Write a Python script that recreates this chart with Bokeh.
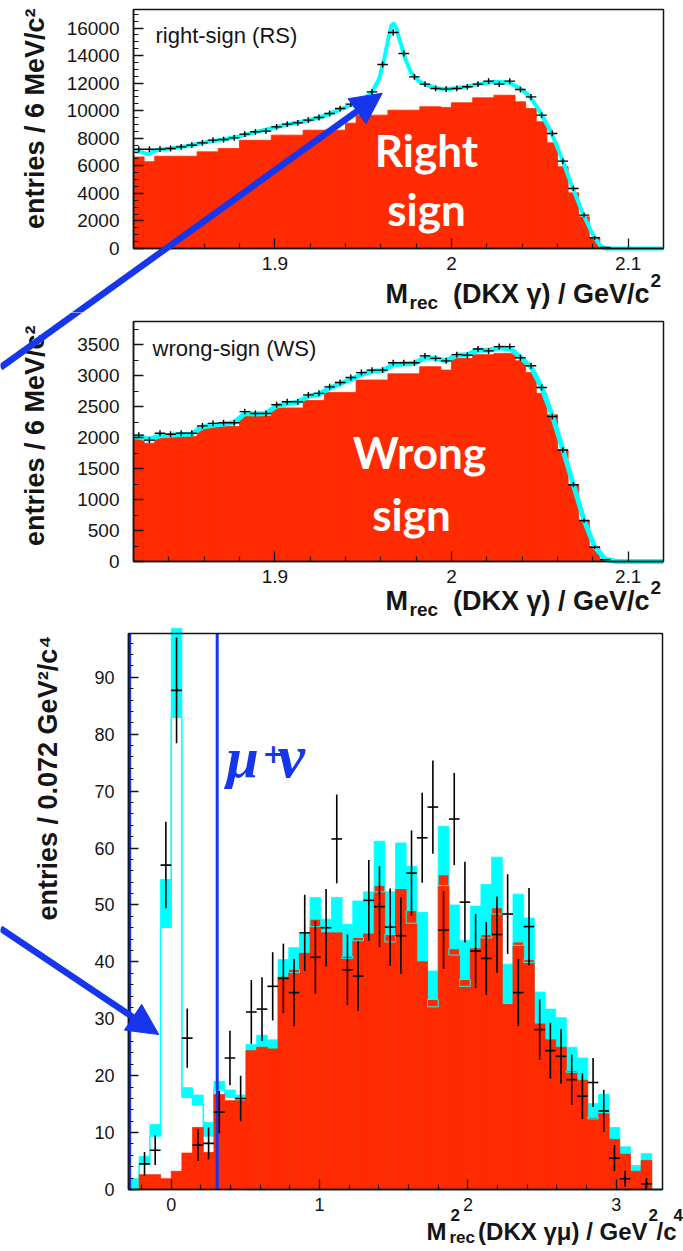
import math
from bokeh.plotting import figure
from bokeh.models import Range1d, Label, Arrow, NormalHead, FixedTicker, BoxAnnotation
from bokeh.layouts import column
from bokeh.embed import file_html
from bokeh.resources import INLINE

# ------------------------------------------------------------------ data
# Panel 1: right-sign, M_rec(DKX gamma), 50 bins of 6 MeV from 1.82 GeV
rs_bin_start, rs_bin_width, rs_nbins = 1.82, 0.006, 50
rs_background = [6650, 6300, 6700, 6700, 6700, 6700, 7020, 7020, 7260, 7260,
                 7860, 7860, 7860, 8230, 8230, 8230, 8590, 8590, 8590, 8590,
                 9100, 9680, 9680, 9680, 10040, 10040, 10040, 10290, 10290, 10240,
                 10580, 10580, 10940, 10940, 11130, 11130, 10650, 10160, 9200, 7670,
                 5930, 4040, 2300, 800, 70, 0, 0, 0, 0, 0]
rs_data = [7210, 7210, 7210, 7260, 7380, 7500, 7670, 7870, 7910, 8030,
           8300, 8470, 8520, 8830, 9030, 9120, 9320, 9510, 9800, 10160,
           10480, 10770, 11370, 13360, 15680, 14160, 12460, 11930, 11620, 11570,
           11620, 11740, 11930, 12150, 11930, 12150, 11540, 11010, 9680, 8350,
           6340, 4360, 2420, 770, 70, 0, 0, 0, 0, 0]
rs_err = [210, 210, 210, 210, 210, 210, 210, 210, 210, 210,
          210, 210, 210, 210, 210, 210, 210, 210, 210, 210,
          210, 210, 210, 220, 230, 220, 215, 210, 210, 210,
          210, 210, 210, 210, 210, 210, 210, 210, 210, 210,
          200, 190, 170, 130, 60, 0, 0, 0, 0, 0]
rs_fit_x = [1.820, 1.824, 1.8285, 1.833, 1.838, 1.850, 1.860, 1.870, 1.880, 1.890,
            1.900, 1.910, 1.920, 1.930, 1.940, 1.950, 1.955, 1.959, 1.962, 1.9645,
            1.966, 1.9675, 1.969, 1.971, 1.974, 1.977, 1.981, 1.986, 1.993, 2.000,
            2.008, 2.016, 2.024, 2.032, 2.038, 2.044, 2.050, 2.056, 2.062, 2.068,
            2.074, 2.080, 2.084, 2.087, 2.120]
rs_fit_y = [7100, 7000, 6850, 7150, 7230, 7430, 7700, 7900, 8150, 8480,
            8780, 9070, 9330, 9720, 10250, 10800, 11350, 12300, 13800, 15400,
            16200, 16350, 15900, 15000, 13700, 12800, 12200, 11850, 11600, 11600,
            11750, 11950, 12100, 12050, 11700, 11100, 9950, 8550, 6700, 4600,
            2650, 1000, 250, 0, 0]

# Panel 2: wrong-sign
ws_background = [1990, 1910, 2020, 2020, 2020, 2020, 2180, 2180, 2180, 2180,
                 2350, 2350, 2350, 2480, 2480, 2480, 2600, 2600, 2730, 2730,
                 2730, 2930, 2930, 2930, 3030, 3030, 3030, 3145, 3145, 3090,
                 3280, 3280, 3340, 3340, 3360, 3360, 3240, 3050, 2715, 2370,
                 1800, 1240, 670, 240, 30, 0, 0, 0, 0, 0]
ws_data = [2040, 1960, 2070, 2055, 2070, 2070, 2190, 2230, 2240, 2240,
           2420, 2390, 2390, 2530, 2580, 2580, 2690, 2715, 2820, 2890,
           2970, 3050, 3090, 3090, 3210, 3210, 3210, 3320, 3280, 3240,
           3340, 3330, 3430, 3400, 3470, 3470, 3290, 3160, 2810, 2340,
           1800, 1240, 660, 230, 30, 0, 0, 0, 0, 0]
ws_err = [48, 48, 48, 48, 48, 48, 48, 48, 48, 48,
          48, 48, 48, 48, 48, 48, 48, 48, 48, 48,
          48, 48, 48, 48, 48, 48, 48, 48, 48, 48,
          48, 48, 48, 48, 48, 48, 48, 48, 48, 48,
          46, 42, 36, 25, 12, 0, 0, 0, 0, 0]
ws_fit = [2010, 1975, 2030, 2040, 2050, 2060, 2170, 2200, 2220, 2240,
          2390, 2380, 2390, 2510, 2550, 2570, 2670, 2700, 2800, 2870,
          2940, 3020, 3070, 3080, 3180, 3190, 3200, 3290, 3280, 3240,
          3330, 3340, 3410, 3410, 3450, 3440, 3300, 3140, 2810, 2360,
          1810, 1240, 670, 240, 40, 0, 0, 0, 0, 0]

# Panel 3: M^2_rec(DKX gamma mu), 50 bins of 0.072 GeV^2 from -0.288
m2_bin_start, m2_bin_width, m2_nbins = -0.288, 0.072, 50
m2_background = [0, 2.6, 2.6, 1.9, 3.2, 6.4, 10.9, 6.5, 16.7, 15.6,
                 15.6, 24.4, 25.0, 24.7, 37.3, 38.1, 41.5, 46.2, 45.1, 45.1,
                 40.6, 43.7, 44.9, 52.3, 43.5, 52.7, 46.8, 40.0, 32.1, 53.4,
                 41.2, 35.7, 42.3, 44.2, 48.4, 32.5, 42.9, 39.9, 29.1, 26.3,
                 25.0, 20.6, 19.2, 12.4, 13.3, 8.8, 6.2, 3.2, 5.1, 0]
m2_background_box = [0, 0, 0, 0, 0, 0, 0, 0, 0, 0,
                     0, 0, 0, 0, 0, 38.7, 0, 47.5, 0, 0,
                     41.0, 44.3, 0, 53.4, 44.8, 0, 49.0, 0, 33.4, 55.3,
                     42.3, 36.9, 0, 44.8, 49.5, 0, 43.5, 40.4, 0, 0,
                     0, 20.9, 0, 12.7, 0, 0, 0, 0, 0, 0]
m2_mc_upper = [1.9, 5.8, 11.4, 54.5, 98.6, 17.9, 16.6, 11.8, 19.0, 17.5,
               16.6, 25.5, 27.1, 26.3, 40.4, 42.5, 44.9, 51.3, 47.5, 51.3,
               46.6, 50.7, 52.3, 61.2, 52.3, 60.9, 56.8, 48.7, 38.4, 63.8,
               50.0, 43.8, 49.8, 53.6, 58.4, 39.6, 51.9, 47.7, 34.7, 31.7,
               30.2, 25.0, 23.1, 15.1, 16.7, 10.9, 7.5, 4.2, 6.3, 0]
m2_mc_lower = [0, 4.5, 9.4, 46.1, 83.0, 16.2, 14.9, 9.4, 17.5, 16.2,
               15.6, 0, 0, 0, 0, 0, 0, 0, 0, 0,
               0, 0, 0, 0, 0, 0, 0, 0, 0, 0,
               0, 0, 0, 0, 0, 0, 0, 0, 0, 0,
               0, 0, 0, 0, 0, 0, 0, 0, 0, 0]
m2_data = [None, 4.5, 6.9, 57.0, 87.7, 26.6, 7.8, 8.1, 13.6, 23.1,
           16.0, 31.2, 31.7, 35.7, 37.1, 34.6, 45.1, 40.8, 46.0, 61.6,
           38.6, 37.5, 50.8, 49.7, 46.1, 44.6, 55.6, 61.8, 67.2, 45.6,
           65.1, 50.5, 41.9, 40.6, 44.8, 48.4, 34.6, 46.2, 28.1, 24.4,
           23.4, 19.3, 16.4, 18.8, 13.8, 5.5, 1.9, None, 1.0, None]
m2_err = [None, 2.1, 2.6, 7.6, 9.3, 5.2, 2.8, 2.8, 3.7, 4.8,
          4.0, 5.6, 5.6, 6.0, 6.1, 5.9, 6.7, 6.4, 6.8, 7.8,
          6.2, 6.1, 7.1, 7.1, 6.8, 6.7, 7.5, 7.9, 8.2, 6.8,
          8.1, 7.1, 6.5, 6.4, 6.7, 7.0, 5.9, 6.8, 5.3, 4.9,
          4.8, 4.4, 4.0, 4.3, 3.7, 2.3, 1.4, None, 1.0, None]
mu_nu_window = [-0.28, 0.31]

# ticks
rs_x_ticks = [1.9, 2.0, 2.1]
rs_x_minor = [1.84, 1.86, 1.88, 1.92, 1.94, 1.96, 1.98, 2.02, 2.04, 2.06, 2.08]
rs_y_ticks = [0, 2000, 4000, 6000, 8000, 10000, 12000, 14000, 16000]
rs_y_minor = [500, 1000, 1500, 2500, 3000, 3500, 4500, 5000, 5500, 6500, 7000, 7500,
              8500, 9000, 9500, 10500, 11000, 11500, 12500, 13000, 13500, 14500,
              15000, 15500, 16500, 17000]
ws_y_ticks = [0, 500, 1000, 1500, 2000, 2500, 3000, 3500]
ws_y_minor = [250, 750, 1250, 1750, 2250, 2750, 3250, 3750]
m2_x_ticks = [0, 1, 2, 3]
m2_x_minor = [-0.2, 0.2, 0.4, 0.6, 0.8, 1.2, 1.4, 1.6, 1.8, 2.2, 2.4, 2.6, 2.8, 3.2]
m2_y_ticks = [0, 10, 20, 30, 40, 50, 60, 70, 80, 90]
m2_y_minor = [v for v in range(2, 98, 2) if v % 10 != 0]

RED = "#ff2a00"
CYAN = "#00ffff"
BLUE = "#1636ee"
INK = "#151515"
SANS = "Liberation Sans"
W = 683
BASE_SHIFT = 0.31   # Bokeh puts the alphabetic baseline about 0.31 em below the anchor


# ------------------------------------------------------------------ helpers
def bin_edges(start, width, n):
    return [round(start + width * i, 6) for i in range(n + 1)]


def to_data(box, rng, px, py):
    """canvas pixel (px, py) -> data coordinates, given the plot box."""
    fl, fr, ft, fb = box
    x0, x1, y0, y1 = rng
    return (x0 + (px - fl) * (x1 - x0) / (fr - fl),
            y0 + (fb - py) * (y1 - y0) / (fb - ft))


def make_fig(H, box, rng):
    # the Bokeh frame spans the whole canvas; the axes sit at the box edges
    xs, ye = to_data(box, rng, 0, 0)
    xe, ys = to_data(box, rng, W, H)
    p = figure(width=W, height=H, x_range=Range1d(xs, xe), y_range=Range1d(ys, ye),
               output_backend="svg", toolbar_location=None, min_border=0,
               min_border_left=0, min_border_right=0, min_border_top=0,
               min_border_bottom=0)
    p.xgrid.visible = False
    p.ygrid.visible = False
    p.outline_line_color = None
    p.background_fill_color = "white"
    p.border_fill_color = "white"
    p.xaxis.fixed_location = rng[2]
    p.xaxis.bounds = (rng[0], rng[1])
    p.yaxis.fixed_location = rng[0]
    p.yaxis.bounds = (rng[2], rng[3])
    return p


def frame_box(p, rng):
    p.add_layout(BoxAnnotation(left=rng[0], right=rng[1], bottom=rng[2], top=rng[3],
                               fill_color=None, line_color=INK, line_width=1.5,
                               line_alpha=1.0))


def style_axes(p, xt, xm, yt, ym, font_px, overrides=None):
    p.xaxis.ticker = FixedTicker(ticks=xt, minor_ticks=xm)
    p.yaxis.ticker = FixedTicker(ticks=yt, minor_ticks=ym)
    for ax in p.xaxis + p.yaxis:
        ax.axis_line_color = INK
        ax.axis_line_width = 1.5
        ax.major_tick_line_color = INK
        ax.minor_tick_line_color = INK
        ax.major_tick_line_width = 1.3
        ax.minor_tick_line_width = 1.2
        ax.major_tick_in = 10
        ax.major_tick_out = 0
        ax.minor_tick_in = 5
        ax.minor_tick_out = 0
        ax.major_label_text_font = SANS
        ax.major_label_text_font_size = font_px
        ax.major_label_text_color = INK
    p.yaxis.major_label_standoff = 14
    p.xaxis.major_label_standoff = 8
    if overrides:
        p.xaxis.major_label_overrides = overrides


def text(p, box, rng, px, py, s, size, font=SANS, style="normal", color=INK,
         align="left", angle=0.0):
    # (px, py) is where the glyph baseline should sit on the canvas
    if angle:
        px = px - BASE_SHIFT * size
    else:
        py = py - BASE_SHIFT * size
    x, y = to_data(box, rng, px, py)
    p.add_layout(Label(x=x, y=y, text=s, text_font=font, text_font_size=f"{size}px",
                       text_font_style=style, text_color=color, text_align=align,
                       text_baseline="alphabetic", angle=angle))


def arrow(p, box, rng, a, b, head=True):
    x0, y0 = to_data(box, rng, *a)
    x1, y1 = to_data(box, rng, *b)
    end = NormalHead(size=31, fill_color=BLUE, line_color=BLUE, line_width=1) if head else None
    p.add_layout(Arrow(x_start=x0, y_start=y0, x_end=x1, y_end=y1, line_color=BLUE,
                       line_width=6.5, end=end))


def hist(p, e, vals, color, line_color=None, line_width=0.8):
    idx = [i for i, v in enumerate(vals) if v and v > 0]
    p.quad(left=[e[i] for i in idx], right=[e[i + 1] for i in idx], bottom=0,
           top=[vals[i] for i in idx], fill_color=color,
           line_color=line_color if line_color else color, line_width=line_width)


def points(p, e, vals, errs, lw=1.5):
    idx = [i for i, v in enumerate(vals) if v is not None and v > 0]
    c = [(e[i] + e[i + 1]) / 2 for i in idx]
    p.segment(x0=[e[i] for i in idx], x1=[e[i + 1] for i in idx],
              y0=[vals[i] for i in idx], y1=[vals[i] for i in idx],
              line_color="black", line_width=lw)
    p.segment(x0=c, x1=c, y0=[vals[i] - errs[i] for i in idx],
              y1=[vals[i] + errs[i] for i in idx], line_color="black", line_width=lw)


# ------------------------------------------------------------------ panel 1
H1 = 312
B1 = (133, 663, 9, 248)
R1 = (1.82, 2.12, 0, 17350)
p1 = make_fig(H1, B1, R1)
e_rs = bin_edges(rs_bin_start, rs_bin_width, rs_nbins)
hist(p1, e_rs, rs_background, RED)
p1.line(rs_fit_x, rs_fit_y, line_color=CYAN, line_width=4)
points(p1, e_rs, rs_data, rs_err, lw=1.4)
style_axes(p1, rs_x_ticks, rs_x_minor, rs_y_ticks, rs_y_minor, "19px",
           {1.9: "1.9", 2.0: "2", 2.1: "2.1"})
frame_box(p1, R1)
text(p1, B1, R1, 155, 42, "right-sign (RS)", 22)
text(p1, B1, R1, 426, 163, "Right", 44, font="Lato", style="bold", color="white", align="center")
text(p1, B1, R1, 426, 222, "sign", 44, font="Lato", style="bold", color="white", align="center")
text(p1, B1, R1, 43, 8, "entries / 6 MeV/c\u00b2", 27, style="bold", align="right",
     angle=math.pi / 2)
text(p1, B1, R1, 385, 302, "M", 27, style="bold")
text(p1, B1, R1, 409, 308, "rec", 19, style="bold")
text(p1, B1, R1, 649, 302, "(DKX \u03b3) / GeV/c", 27, style="bold", align="right")
text(p1, B1, R1, 650, 286, "2", 19, style="bold")
arrow(p1, B1, R1, (0, 367), (381.7, 92.7), head=True)

# ------------------------------------------------------------------ panel 2
H2 = 312
B2 = (133, 663, 9, 249)
R2 = (1.82, 2.12, 0, 3875)
p2 = make_fig(H2, B2, R2)
hist(p2, e_rs, ws_background, RED)
c_rs = [(e_rs[i] + e_rs[i + 1]) / 2 for i in range(rs_nbins)]
p2.line([R2[0]] + c_rs + [R2[1]], [ws_fit[0]] + ws_fit + [0], line_color=CYAN, line_width=5)
points(p2, e_rs, ws_data, ws_err, lw=1.4)
style_axes(p2, rs_x_ticks, rs_x_minor, ws_y_ticks, ws_y_minor, "19px",
           {1.9: "1.9", 2.0: "2", 2.1: "2.1"})
frame_box(p2, R2)
text(p2, B2, R2, 152, 43, "wrong-sign (WS)", 22)
text(p2, B2, R2, 419, 153, "Wrong", 44, font="Lato", style="bold", color="white", align="center")
text(p2, B2, R2, 411, 215, "sign", 44, font="Lato", style="bold", color="white", align="center")
text(p2, B2, R2, 43, 13, "entries / 6 MeV/c\u00b2", 27, style="bold", align="right",
     angle=math.pi / 2)
text(p2, B2, R2, 385, 297, "M", 27, style="bold")
text(p2, B2, R2, 409, 303, "rec", 19, style="bold")
text(p2, B2, R2, 649, 297, "(DKX \u03b3) / GeV/c", 27, style="bold", align="right")
text(p2, B2, R2, 650, 281, "2", 19, style="bold")
arrow(p2, B2, R2, (0, 367 - 312), (381.7, 92.7 - 312), head=False)

# ------------------------------------------------------------------ panel 3
H3 = 627
B3 = (128, 662, 9, 565)
R3 = (-0.288, 3.312, 0, 97.7)
p3 = make_fig(H3, B3, R3)
e_m2 = bin_edges(m2_bin_start, m2_bin_width, m2_nbins)
hist(p3, e_m2, m2_mc_upper, CYAN)
hist(p3, e_m2, m2_mc_lower, "white", line_color="white", line_width=0.5)
p3.step(e_m2[:-1] + [e_m2[-1]], m2_mc_lower + [m2_mc_lower[-1]], mode="after",
        line_color=CYAN, line_width=1.5)
hist(p3, e_m2, m2_background, RED)
box_idx = [i for i, v in enumerate(m2_background_box) if v > 0]
p3.quad(left=[e_m2[i] for i in box_idx], right=[e_m2[i + 1] for i in box_idx],
        bottom=[m2_background[i] for i in box_idx], top=[m2_background_box[i] for i in box_idx],
        fill_color=RED, line_color=CYAN, line_width=1)
for loc in mu_nu_window:
    p3.segment(x0=[loc], x1=[loc], y0=[R3[2]], y1=[R3[3]], line_color=BLUE, line_width=3)
points(p3, e_m2, m2_data, m2_err, lw=1.6)
style_axes(p3, m2_x_ticks, m2_x_minor, m2_y_ticks, m2_y_minor, "18px")
frame_box(p3, R3)
text(p3, B3, R3, 226, 151, "\u03bc", 58, font="Liberation Serif", style="bold italic", color=BLUE)
text(p3, B3, R3, 262, 137, "+", 26, font="DejaVu Sans", style="bold", color=BLUE)
text(p3, B3, R3, 277, 151, "\u03bd", 62, font="Liberation Serif", style="bold italic", color=BLUE)
text(p3, B3, R3, 56, 11, "entries / 0.072 GeV\u00b2/c\u2074", 27, style="bold", align="right",
     angle=math.pi / 2)
text(p3, B3, R3, 426, 614, "M", 24, style="bold")
text(p3, B3, R3, 450, 596, "2", 17, style="bold")
text(p3, B3, R3, 449, 618, "rec", 17, style="bold")
text(p3, B3, R3, 647, 614, "(DKX \u03b3\u03bc) / GeV", 24, style="bold", align="right")
text(p3, B3, R3, 648, 596, "2", 17, style="bold")
text(p3, B3, R3, 656, 614, "/c", 24, style="bold")
text(p3, B3, R3, 673, 596, "4", 17, style="bold")
arrow(p3, B3, R3, (0, 928 - 624), (158.3, 1034 - 624), head=True)

layout = column(p1, p2, p3)
open("out.html", "w").write(file_html(layout, INLINE, title="D_s -> mu nu recoil mass"))
